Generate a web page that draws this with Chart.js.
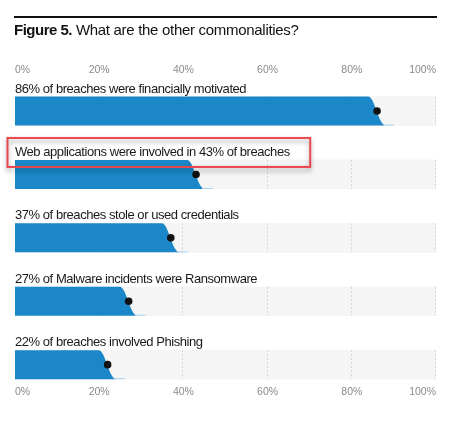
<!DOCTYPE html>
<html>
<head>
<meta charset="utf-8">
<script src="https://cdn.jsdelivr.net/npm/chart.js@4.4.1/dist/chart.umd.min.js"></script>
<style>
  html, body { margin: 0; padding: 0; background: #fff; }
  #wrap { position: relative; width: 470px; height: 427px; overflow: hidden; }
  #title {
    position: absolute; left: 14px; top: 16px; width: 423px;
    border-top: 2px solid #111; padding-top: 3px;
    font-family: 'Liberation Sans', Arial, sans-serif; font-size: 15px; line-height: 18px;
    letter-spacing: -0.3px; color: #111;
  }
  #title b { letter-spacing: -0.5px; }
  canvas { position: absolute; left: 0; top: 0; }
</style>
</head>
<body>
<div id="wrap">
  <canvas id="myChart" width="470" height="427"></canvas>
  <div id="title"><b>Figure 5.</b> What are the other commonalities?</div>
</div>
<script>
// Données du graphique
const labels = [
    '86% of breaches were financially motivated',
    'Web applications were involved in 43% of breaches',
    '37% of breaches stole or used credentials',
    '27% of Malware incidents were Ransomware',
    '22% of breaches involved Phishing'
];
const values = [86, 43, 37, 27, 22];
const tickValues = [0, 20, 40, 60, 80, 100];
const highlighted = 1; // ligne entourée en rouge

const blue = '#1b87c8';
const labelFont = '13px "Liberation Sans", Arial, sans-serif';

// Dessine la grille pointillée, la barre bleue et les libellés de chaque ligne
const rowsPlugin = {
    id: 'rows',
    afterDatasetDraw(chart, args) {
        if (args.index !== 0) return;
        const ctx = chart.ctx;
        const xScale = chart.scales.x;
        const bars = args.meta.data;

        bars.forEach((bar, i) => {
            const top = bar.y - bar.height / 2;
            const bot = bar.y + bar.height / 2;

            // grille
            ctx.save();
            ctx.strokeStyle = '#d4d4d4';
            ctx.lineWidth = 1;
            ctx.setLineDash([2, 2]);
            tickValues.slice(1).forEach(t => {
                const gx = Math.round(xScale.getPixelForValue(t)) - 0.5;
                ctx.beginPath();
                ctx.moveTo(gx, top);
                ctx.lineTo(gx, bot);
                ctx.stroke();
            });
            ctx.restore();

            // barre bleue avec une fin arrondie
            const x0 = bar.base;
            const xv = xScale.getPixelForValue(values[i]);
            ctx.save();
            ctx.fillStyle = blue;
            ctx.beginPath();
            ctx.moveTo(x0, top);
            ctx.lineTo(xv - 9, top);
            ctx.bezierCurveTo(xv - 2, top, xv + 1, bot, xv + 9, bot);
            ctx.lineTo(x0, bot);
            ctx.closePath();
            ctx.fill();
            ctx.strokeStyle = '#a9d2ee';
            ctx.lineWidth = 1;
            ctx.beginPath();
            ctx.moveTo(xv + 6, bot - 0.5);
            ctx.lineTo(xv + 17, bot - 0.5);
            ctx.stroke();
            ctx.restore();

            // libellé
            ctx.save();
            ctx.font = labelFont;
            ctx.letterSpacing = '-0.45px';
            ctx.fillStyle = '#1a1a1a';
            ctx.textBaseline = 'alphabetic';
            ctx.fillText(labels[i], x0, top - 4);
            ctx.restore();
        });
    },
    afterDraw(chart) {
        const ctx = chart.ctx;
        const bar = chart.getDatasetMeta(0).data[highlighted];
        const top = bar.y - bar.height / 2;
        ctx.save();
        ctx.font = labelFont;
        ctx.letterSpacing = '-0.45px';
        const w = ctx.measureText(labels[highlighted]).width;
        ctx.shadowColor = 'rgba(0,0,0,0.35)';
        ctx.shadowBlur = 5;
        ctx.shadowOffsetY = 3;
        ctx.strokeStyle = '#e8474d';
        ctx.lineWidth = 2;
        ctx.strokeRect(bar.base - 7.5, top - 22, w + 28, 29);
        ctx.restore();
    }
};

const axisCommon = {
    type: 'linear',
    min: 0,
    max: 100,
    grid: { display: false, drawTicks: false },
    border: { display: false },
    ticks: {
        stepSize: 20,
        align: 'inner',
        padding: 3,
        color: '#8a8a8a',
        font: { family: '"Liberation Sans", Arial, sans-serif', size: 10.5 },
        callback: v => v + '%'
    }
};

const ctx = document.getElementById('myChart').getContext('2d');
new Chart(ctx, {
    type: 'bar',
    data: {
        datasets: [
            {
                // piste grise de 0 à 100 %
                type: 'bar',
                indexAxis: 'y',
                data: values.map((v, i) => ({ x: tickValues[tickValues.length - 1], y: i })),
                backgroundColor: '#f5f5f5',
                barThickness: 29,
                order: 2
            },
            {
                // point noir sur la valeur
                type: 'scatter',
                data: values.map((v, i) => ({ x: v, y: i })),
                backgroundColor: '#111',
                borderWidth: 0,
                pointRadius: 3.8,
                order: 1
            }
        ]
    },
    options: {
        indexAxis: 'y',
        responsive: false,
        animation: false,
        events: [],
        layout: { padding: { left: 15, right: 34, top: 60.75, bottom: 26 } },
        plugins: { legend: { display: false }, tooltip: { enabled: false }, title: { display: false } },
        scales: {
            x: Object.assign({}, axisCommon, { position: 'top' }),
            x2: Object.assign({}, axisCommon, { position: 'bottom', axis: 'x' }),
            y: { type: 'linear', reverse: true, offset: false, min: -0.5, max: 4.28, display: false }
        }
    },
    plugins: [rowsPlugin]
});
</script>
</body>
</html>
